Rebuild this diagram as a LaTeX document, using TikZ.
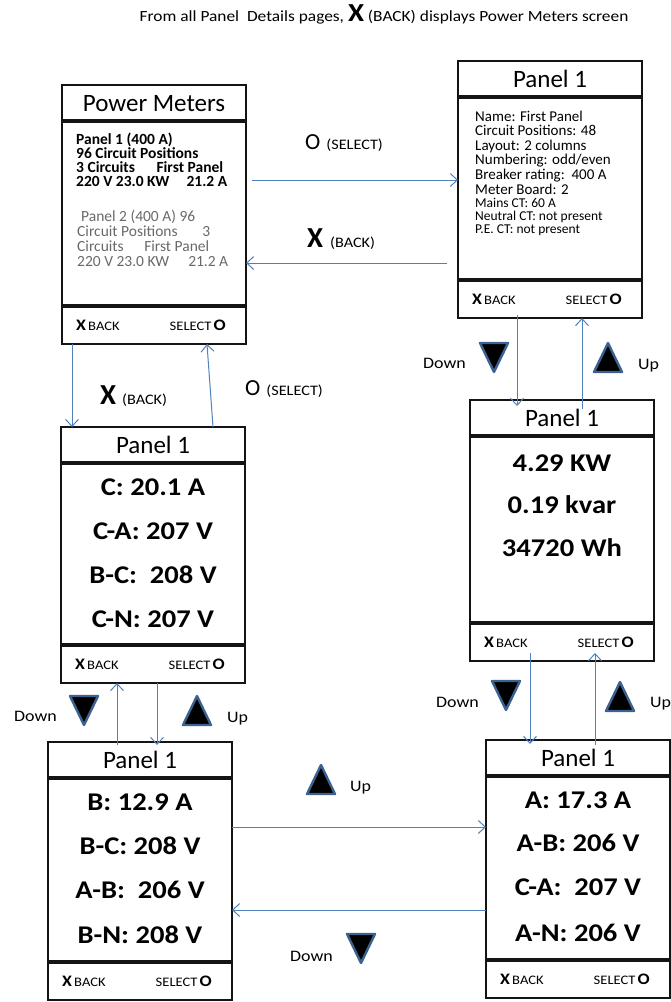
\documentclass[tikz,border=0pt]{standalone}
\usepackage{fontspec}
\setmainfont{Carlito}
\newfontfamily\widefont{Carlito}[FakeStretch=1.12]
\usetikzlibrary{arrows.meta,calc}
\definecolor{arrblue}{RGB}{79,129,189}
\definecolor{triblue}{RGB}{60,98,145}
\definecolor{graytxt}{RGB}{105,105,105}
\definecolor{boxline}{RGB}{20,20,20}
\newcommand{\fs}[1]{\fontsize{#1}{#1}\selectfont}
% screen: name, cx, cy, height, title
\newcommand{\screen}[5]{%
  \node[box, minimum height=#4pt] (#1) at (#2,#3) {};
  \draw[sepline] ([yshift=-36pt]#1.north west) -- ([yshift=-36pt]#1.north east);
  \draw[sepline] ([yshift=38pt]#1.south west) -- ([yshift=38pt]#1.south east);
  \node[ttl] (#1-title) at ([yshift=-26pt]#1.north) {#5};
  \node[foot, anchor=base west] (#1-back) at ([xshift=14pt,yshift=14pt]#1.south west) {{\bfseries\fs{16}X}\,BACK};
  \node[foot, anchor=base east] (#1-sel) at ([xshift=-20pt,yshift=14pt]#1.south east) {SELECT\,{\bfseries\fs{16}O}};
}
\newcommand{\tridown}[2]{\draw[tri] (#1-14,#2-14) -- (#1+14,#2-14) -- (#1,#2+15) -- cycle;}
\newcommand{\triup}[2]{\draw[tri] (#1-14,#2+14) -- (#1+14,#2+14) -- (#1,#2-15) -- cycle;}
\begin{document}
\begin{tikzpicture}[x=1pt,y=-1pt,
  box/.style={draw=boxline, line width=1.5pt, minimum width=184pt, inner sep=0pt, outer sep=0pt},
  sepline/.style={draw=boxline, line width=4pt},
  arr/.style={draw=arrblue, line width=1pt, -{Straight Barb[length=7pt,width=13pt,line width=1pt]}},
  ttl/.style={font=\fs{25}, anchor=base, inner sep=0pt},
  big/.style={font=\widefont\bfseries\fs{25.5}, anchor=base, inner sep=0pt},
  txt/.style={font=\fs{15}, anchor=base west, inner sep=0pt, text height=9pt, text depth=2.5pt},
  small/.style={font=\fs{13.5}, anchor=base west, inner sep=0pt, text height=8pt, text depth=2pt},
  foot/.style={font=\widefont\fs{13}, inner sep=0pt},
  lbl/.style={font=\widefont\fs{16}, anchor=base west, inner sep=0pt},
  tri/.style={fill=black, draw=triblue, line width=2.4pt, line join=round}
]
\useasboundingbox (0,0) rectangle (671,1002);

% header
\node[anchor=base, inner sep=0pt, font=\widefont\fs{15.5}] (hdr) at (384,21)
  {From all Panel\ \ Details pages, {\bfseries\fs{26}X} (BACK) displays Power Meters screen};

% screens
\screen{pm}{154}{214.5}{259}{Power Meters}
\screen{tr}{550}{189.5}{257}{Panel 1}
\screen{mr}{562}{530.5}{261}{Panel 1}
\screen{ml}{153}{555}{256}{Panel 1}
\screen{bl}{140}{871}{258}{Panel 1}
\screen{br}{578}{869}{258}{Panel 1}

% Power Meters body
\begin{scope}[every node/.style={txt}]
\node[font=\bfseries\fs{15.5}] (pm1) at (76,144) {Panel 1 (400 A)};
\node[font=\bfseries\fs{15.5}] (pm2) at (76,158) {96 Circuit Positions};
\node[font=\bfseries\fs{15.5}] (pm3) at (76,172) {\makebox[147pt][l]{3 Circuits\hfill First Panel}};
\node[font=\bfseries\fs{15.5}] (pm4) at (76,186) {\makebox[151pt][l]{220 V 23.0 KW\hfill 21.2 A}};
\node[text=graytxt, font=\fs{15.5}] (pm5) at (81,221) {Panel 2 (400 A) 96};
\node[text=graytxt, font=\fs{15.5}] (pm6) at (77,236) {\makebox[133pt][l]{Circuit Positions\hfill 3}};
\node[text=graytxt, font=\fs{15.5}] (pm7) at (77,251) {\makebox[132pt][l]{Circuits\hfill First Panel}};
\node[text=graytxt, font=\fs{15.5}] (pm8) at (77,266) {\makebox[151pt][l]{220 V 23.0 KW\hfill 21.2 A}};
\end{scope}

% Panel details body
\node[txt] (tr1) at (475,121) {Name: First Panel};
\node[txt] (tr2) at (475,135.6) {Circuit Positions: 48};
\node[txt] (tr3) at (475,150.2) {Layout: 2 columns};
\node[txt] (tr4) at (475,164.8) {Numbering: odd/even};
\node[txt] (tr5) at (475,179.4) {Breaker rating:\ \ 400 A};
\node[txt] (tr6) at (475,194) {Meter Board: 2};
\node[small] (tr7) at (475,207.5) {Mains CT: 60 A};
\node[small] (tr8) at (475,220.3) {Neutral CT: not present};
\node[small] (tr9) at (475,233.1) {P.E. CT: not present};

% data screens
\foreach \t/\d [count=\i] in {4.29 KW/71, 0.19 kvar/113, 34720 Wh/156}
  \node[big] (mr-l\i) at ([yshift=-\d pt]mr.north) {\t};
\foreach \t/\d [count=\i] in {C: 20.1 A/68, C-A: 207 V/112, B-C:\ \ 208 V/156, C-N: 207 V/200}
  \node[big] (ml-l\i) at ([yshift=-\d pt]ml.north) {\t};
\foreach \t/\d [count=\i] in {B: 12.9 A/68, B-C: 208 V/112, A-B:\ \ 206 V/156, B-N: 208 V/201}
  \node[big] (bl-l\i) at ([yshift=-\d pt]bl.north) {\t};
\foreach \t/\d [count=\i] in {A: 17.3 A/68, A-B: 206 V/111, C-A:\ \ 207 V/155, A-N: 206 V/201}
  \node[big] (br-l\i) at ([yshift=-\d pt]br.north) {\t};

% connectors
\draw[arr] ($(pm.north east)+(6,95)$) -- ($(tr.north west)+(0,119)$);
\draw[arr] ($(tr.north west)+(-11,202)$) -- ($(pm.north east)+(0,178)$);
\draw[arr] ($(pm.south west)+(10,0)$) -- ($(ml.north west)+(11,0)$);
\draw[arr] ($(ml.north west)+(152,0)$) -- ($(pm.south west)+(145,0)$);
\draw[arr] ($(tr.south west)+(59,-3)$) -- ($(mr.north west)+(47,6)$);
\draw[arr] ($(mr.north west)+(112,9)$) -- ($(tr.south west)+(124,0)$);
\draw[arr] ($(mr.south west)+(60,-8)$) -- ($(br.north west)+(44,4)$);
\draw[arr] ($(br.north west)+(109,5)$) -- ($(mr.south west)+(125,-8)$);
\draw[arr] ($(ml.south west)+(96,0)$) -- ($(bl.north west)+(109,3)$);
\draw[arr] ($(bl.north west)+(69,3)$) -- ($(ml.south west)+(56,0)$);
\draw[arr] ($(bl.north east)+(0,85)$) -- ($(br.north west)+(0,87)$);
\draw[arr] ($(br.north west)+(0,170)$) -- ($(bl.north east)+(0,168)$);

% connector labels
\node[anchor=base west, inner sep=0pt] (sel1) at (305,149.5) {{\fs{23}O}\hspace{6pt}{\widefont\fs{14.5}(SELECT)}};
\node[anchor=base west, inner sep=0pt] (back1) at (307,247.5) {{\bfseries\fs{29}X}\hspace{7pt}{\widefont\fs{14.5}(BACK)}};
\node[anchor=base west, inner sep=0pt] (back2) at (100,404) {{\bfseries\fs{29}X}\hspace{6pt}{\widefont\fs{14.5}(BACK)}};
\node[anchor=base west, inner sep=0pt] (sel2) at (245,395) {{\fs{23}O}\hspace{6pt}{\widefont\fs{14.5}(SELECT)}};

% up/down markers
\tridown{494}{357} \triup{608}{358}
\tridown{506}{695} \triup{620}{697}
\tridown{84}{710}  \triup{197}{711}
\triup{321}{780}   \tridown{361}{948}
\node[lbl] (dn1) at (423,368.5) {Down};
\node[lbl] (up1) at (638,369) {Up};
\node[lbl] (dn2) at (436,707) {Down};
\node[lbl] (up2) at (650,707) {Up};
\node[lbl] (dn3) at (14,721) {Down};
\node[lbl] (up3) at (227,722) {Up};
\node[lbl] (up4) at (350,791) {Up};
\node[lbl] (dn4) at (290,961) {Down};
\end{tikzpicture}
\end{document}
